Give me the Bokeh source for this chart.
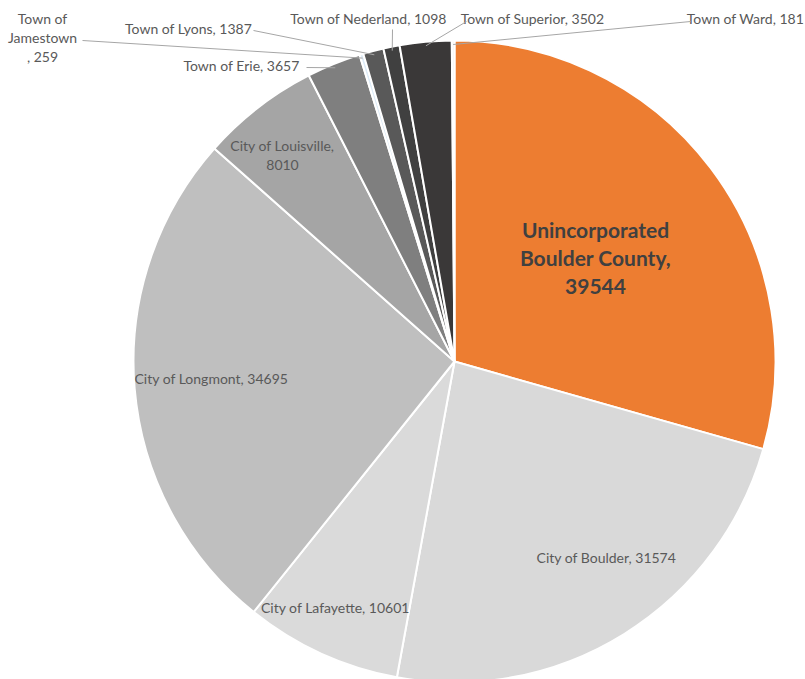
import math
from bokeh.plotting import figure
from bokeh.models import Range1d, ColumnDataSource
from bokeh.core.properties import value
from bokeh.embed import file_html
from bokeh.resources import INLINE

# ---- data ----
names = ["Unincorporated Boulder County", "City of Boulder", "City of Lafayette",
         "City of Longmont", "City of Louisville", "Town of Erie", "Town of Jamestown",
         "Town of Lyons", "Town of Nederland", "Town of Superior", "Town of Ward"]
values = [39544, 31574, 10601, 34695, 8010, 3657, 259, 1387, 1098, 3502, 181]
colors = ["#ED7D31", "#D9D9D9", "#DADADA", "#BFBFBF", "#A5A5A5", "#7F7F7F",
          "#DDEBF7", "#595959", "#404040", "#3A3838", "#F2F2F2"]

W, H = 805, 679
OFF = 0
SCREEN_H = 679

def sy(y):  # screen y -> data y
    return SCREEN_H - y

CX, CY, R = 454, sy(361), 321

total = sum(values)
starts, ends, mids = [], [], []
cum = 0.0
for v in values:
    a0 = cum / total
    cum += v
    a1 = cum / total
    # clockwise from 12 o'clock
    starts.append(math.pi / 2 - 2 * math.pi * a1)
    ends.append(math.pi / 2 - 2 * math.pi * a0)
    mids.append(math.pi / 2 - 2 * math.pi * (a0 + a1) / 2)

p = figure(width=W, height=H, output_backend="svg", toolbar_location=None,
           x_range=Range1d(OFF, OFF + W), y_range=Range1d(sy(OFF + H), sy(OFF)),
           x_axis_type=None, y_axis_type=None, min_border=0,
           background_fill_color="white", border_fill_color="white")
p.outline_line_color = None
p.grid.visible = False

src = ColumnDataSource(dict(x=[CX] * len(values), y=[CY] * len(values),
                            start=starts, end=ends, color=colors))
p.wedge(x="x", y="y", radius=R, start_angle="start", end_angle="end",
        fill_color="color", line_color="white", line_width=2, source=src)

font = value("Lato")
lab_color = "#595959"
FS = "14px"

# inner labels (screen positions)
inner = {
    1: [(606, 557)],
    2: [(335, 607)],
    3: [(211, 378)],
    4: [(282, 145), (282, 164)],
}
for i, pos in inner.items():
    if len(pos) == 1:
        lines = [f"{names[i]}, {values[i]}"]
    else:
        lines = [f"{names[i]},", f"{values[i]}"]
    p.text(x=[q[0] for q in pos], y=[sy(q[1]) for q in pos], text=lines,
           text_font=font, text_font_size=FS, text_color=lab_color,
           text_align="center", text_baseline="middle")

# big label for unincorporated
big_pos = [(595, 229), (595, 257), (595, 286)]
p.text(x=[q[0] for q in big_pos], y=[sy(q[1]) for q in big_pos],
       text=["Unincorporated", "Boulder County,", f"{values[0]}"],
       text_font=font, text_font_size="21px", text_font_style="bold",
       text_color="#404040", text_align="center", text_baseline="middle")

# outside labels with leaders: (text lines positions, anchor of leader)
outside = {
    5: dict(lines=[(f"{names[5]}, {values[5]}", 241, 65)], anchor=(306, 67)),
    6: dict(lines=[("Town of", 42, 18), ("Jamestown", 42, 37), (f", {values[6]}", 42, 56)],
            anchor=(82, 40)),
    7: dict(lines=[(f"{names[7]}, {values[7]}", 188, 28)], anchor=(253, 30)),
    8: dict(lines=[(f"{names[8]}, {values[8]}", 368, 18)], anchor=(392, 29)),
    9: dict(lines=[(f"{names[9]}, {values[9]}", 532, 18)], anchor=(466, 21)),
    10: dict(lines=[(f"{names[10]}, {values[10]}", 745, 18)], anchor=(690, 21)),
}
for i, d in outside.items():
    ls = d["lines"]
    p.text(x=[q[1] for q in ls], y=[sy(q[2]) for q in ls], text=[q[0] for q in ls],
           text_font=font, text_font_size=FS, text_color=lab_color,
           text_align="center", text_baseline="middle")
    ex = CX + (R - 4) * math.cos(mids[i])
    ey = CY + (R - 4) * math.sin(mids[i])
    ax, ay = d["anchor"]
    p.line(x=[ax, ex], y=[sy(ay), ey], line_color="#A6A6A6", line_width=1)

open("out.html", "w").write(file_html(p, INLINE))
